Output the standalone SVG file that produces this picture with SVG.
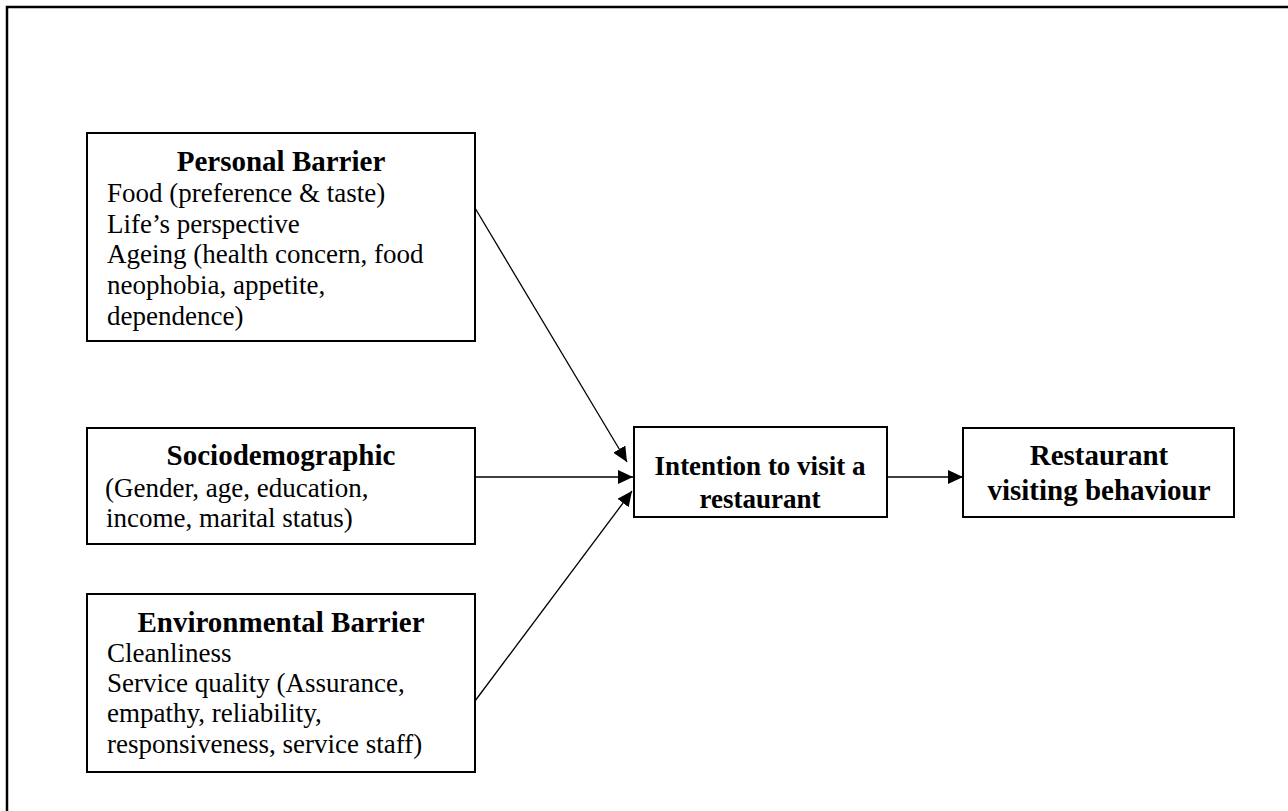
<svg xmlns="http://www.w3.org/2000/svg" width="1288" height="811" viewBox="0 0 1288 811">
<style>
.box{fill:#fff;stroke:#000;stroke-width:2}
.t{font-family:"Liberation Serif","Times New Roman",serif;fill:#000}
.b{font-weight:bold;text-anchor:middle}
.c{stroke:#000;stroke-width:1.3;fill:none}
</style>
<defs>
<marker id="ah" markerUnits="userSpaceOnUse" markerWidth="16" markerHeight="14" refX="15" refY="7" orient="auto">
<path d="M0,0 L15,7 L0,14 Z" fill="#000"/>
</marker>
</defs>
<rect x="7" y="7" width="1300" height="820" fill="#fff" stroke="#000" stroke-width="2.5"/>
<g id="connectors">
<line class="c" x1="475" y1="208" x2="627" y2="462" marker-end="url(#ah)"/>
<line class="c" x1="475" y1="477" x2="633" y2="477" marker-end="url(#ah)"/>
<line class="c" x1="475" y1="701" x2="632" y2="491" marker-end="url(#ah)"/>
<line class="c" x1="887" y1="477" x2="963" y2="477" marker-end="url(#ah)"/>
</g>
<g id="personal">
<rect class="box" x="87" y="133" width="388" height="208"/>
<text class="t b" x="281" y="171" font-size="29">Personal Barrier</text>
<g class="t" font-size="27">
<text x="107" y="202">Food (preference &amp; taste)</text>
<text x="107" y="233">Life’s perspective</text>
<text x="107" y="263">Ageing (health concern, food</text>
<text x="107" y="294">neophobia, appetite,</text>
<text x="107" y="325">dependence)</text>
</g>
</g>
<g id="socio">
<rect class="box" x="87" y="428" width="388" height="116"/>
<text class="t b" x="281" y="465" font-size="29">Sociodemographic</text>
<g class="t" font-size="27">
<text x="105" y="497">(Gender, age, education,</text>
<text x="106" y="527">income, marital status)</text>
</g>
</g>
<g id="environmental">
<rect class="box" x="87" y="594" width="388" height="178"/>
<text class="t b" x="281" y="632" font-size="29">Environmental Barrier</text>
<g class="t" font-size="27">
<text x="107" y="662">Cleanliness</text>
<text x="107" y="692">Service quality (Assurance,</text>
<text x="107" y="722">empathy, reliability,</text>
<text x="107" y="753">responsiveness, service staff)</text>
</g>
</g>
<g id="intention">
<rect class="box" x="634" y="427" width="253" height="90"/>
<text class="t b" x="760" y="475" font-size="27">Intention to visit a</text>
<text class="t b" x="760" y="508" font-size="27">restaurant</text>
</g>
<g id="behaviour">
<rect class="box" x="963" y="428" width="271" height="89"/>
<text class="t b" x="1099" y="465" font-size="29">Restaurant</text>
<text class="t b" x="1099" y="500" font-size="29">visiting behaviour</text>
</g>
</svg>
